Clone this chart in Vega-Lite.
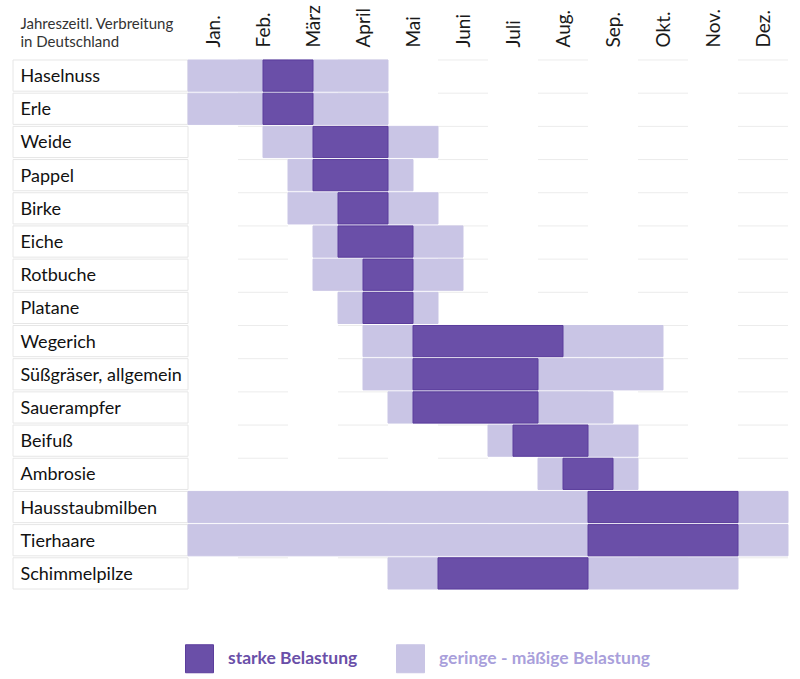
{
  "$schema": "https://vega.github.io/schema/vega-lite/v6.json",
  "width": 776,
  "height": 531,
  "autosize": {"type": "none"},
  "padding": {"left": 12, "top": 59, "right": 12, "bottom": 89},
  "background": "white",
  "config": {"view": {"stroke": null}, "font": "Lato"},
  "datasets": {
    "rows": [
      {"name": "Haselnuss", "cols": [{"a":1,"b":2},{"a":3,"b":4},{"a":5,"b":6},{"a":7,"b":8},{"a":9,"b":10},{"a":11,"b":12}]},
      {"name": "Erle", "cols": [{"a":1,"b":2},{"a":3,"b":4},{"a":5,"b":6},{"a":7,"b":8},{"a":9,"b":10},{"a":11,"b":12}]},
      {"name": "Weide", "cols": [{"a":1,"b":2},{"a":3,"b":4},{"a":5,"b":6},{"a":7,"b":8},{"a":9,"b":10},{"a":11,"b":12}]},
      {"name": "Pappel", "cols": [{"a":1,"b":2},{"a":3,"b":4},{"a":5,"b":6},{"a":7,"b":8},{"a":9,"b":10},{"a":11,"b":12}]},
      {"name": "Birke", "cols": [{"a":1,"b":2},{"a":3,"b":4},{"a":5,"b":6},{"a":7,"b":8},{"a":9,"b":10},{"a":11,"b":12}]},
      {"name": "Eiche", "cols": [{"a":1,"b":2},{"a":3,"b":4},{"a":5,"b":6},{"a":7,"b":8},{"a":9,"b":10},{"a":11,"b":12}]},
      {"name": "Rotbuche", "cols": [{"a":1,"b":2},{"a":3,"b":4},{"a":5,"b":6},{"a":7,"b":8},{"a":9,"b":10},{"a":11,"b":12}]},
      {"name": "Platane", "cols": [{"a":1,"b":2},{"a":3,"b":4},{"a":5,"b":6},{"a":7,"b":8},{"a":9,"b":10},{"a":11,"b":12}]},
      {"name": "Wegerich", "cols": [{"a":1,"b":2},{"a":3,"b":4},{"a":5,"b":6},{"a":7,"b":8},{"a":9,"b":10},{"a":11,"b":12}]},
      {"name": "Süßgräser, allgemein", "cols": [{"a":1,"b":2},{"a":3,"b":4},{"a":5,"b":6},{"a":7,"b":8},{"a":9,"b":10},{"a":11,"b":12}]},
      {"name": "Sauerampfer", "cols": [{"a":1,"b":2},{"a":3,"b":4},{"a":5,"b":6},{"a":7,"b":8},{"a":9,"b":10},{"a":11,"b":12}]},
      {"name": "Beifuß", "cols": [{"a":1,"b":2},{"a":3,"b":4},{"a":5,"b":6},{"a":7,"b":8},{"a":9,"b":10},{"a":11,"b":12}]},
      {"name": "Ambrosie", "cols": [{"a":1,"b":2},{"a":3,"b":4},{"a":5,"b":6},{"a":7,"b":8},{"a":9,"b":10},{"a":11,"b":12}]},
      {"name": "Hausstaubmilben", "cols": [{"a":1,"b":2},{"a":3,"b":4},{"a":5,"b":6},{"a":7,"b":8},{"a":9,"b":10},{"a":11,"b":12}]},
      {"name": "Tierhaare", "cols": [{"a":1,"b":2},{"a":3,"b":4},{"a":5,"b":6},{"a":7,"b":8},{"a":9,"b":10},{"a":11,"b":12}]},
      {"name": "Schimmelpilze", "cols": [{"a":1,"b":2},{"a":3,"b":4},{"a":5,"b":6},{"a":7,"b":8},{"a":9,"b":10},{"a":11,"b":12}]}
    ],
    "bars": [
      {"name": "Haselnuss", "level": "geringe - mäßige Belastung", "start": 0, "end": 4},
      {"name": "Erle", "level": "geringe - mäßige Belastung", "start": 0, "end": 4},
      {"name": "Weide", "level": "geringe - mäßige Belastung", "start": 1.5, "end": 5},
      {"name": "Pappel", "level": "geringe - mäßige Belastung", "start": 2, "end": 4.5},
      {"name": "Birke", "level": "geringe - mäßige Belastung", "start": 2, "end": 5},
      {"name": "Eiche", "level": "geringe - mäßige Belastung", "start": 2.5, "end": 5.5},
      {"name": "Rotbuche", "level": "geringe - mäßige Belastung", "start": 2.5, "end": 5.5},
      {"name": "Platane", "level": "geringe - mäßige Belastung", "start": 3, "end": 5},
      {"name": "Wegerich", "level": "geringe - mäßige Belastung", "start": 3.5, "end": 9.5},
      {"name": "Süßgräser, allgemein", "level": "geringe - mäßige Belastung", "start": 3.5, "end": 9.5},
      {"name": "Sauerampfer", "level": "geringe - mäßige Belastung", "start": 4, "end": 8.5},
      {"name": "Beifuß", "level": "geringe - mäßige Belastung", "start": 6, "end": 9},
      {"name": "Ambrosie", "level": "geringe - mäßige Belastung", "start": 7, "end": 9},
      {"name": "Hausstaubmilben", "level": "geringe - mäßige Belastung", "start": 0, "end": 12},
      {"name": "Tierhaare", "level": "geringe - mäßige Belastung", "start": 0, "end": 12},
      {"name": "Schimmelpilze", "level": "geringe - mäßige Belastung", "start": 4, "end": 11},
      {"name": "Haselnuss", "level": "starke Belastung", "start": 1.5, "end": 2.5},
      {"name": "Erle", "level": "starke Belastung", "start": 1.5, "end": 2.5},
      {"name": "Weide", "level": "starke Belastung", "start": 2.5, "end": 4},
      {"name": "Pappel", "level": "starke Belastung", "start": 2.5, "end": 4},
      {"name": "Birke", "level": "starke Belastung", "start": 3, "end": 4},
      {"name": "Eiche", "level": "starke Belastung", "start": 3, "end": 4.5},
      {"name": "Rotbuche", "level": "starke Belastung", "start": 3.5, "end": 4.5},
      {"name": "Platane", "level": "starke Belastung", "start": 3.5, "end": 4.5},
      {"name": "Wegerich", "level": "starke Belastung", "start": 4.5, "end": 7.5},
      {"name": "Süßgräser, allgemein", "level": "starke Belastung", "start": 4.5, "end": 7},
      {"name": "Sauerampfer", "level": "starke Belastung", "start": 4.5, "end": 7},
      {"name": "Beifuß", "level": "starke Belastung", "start": 6.5, "end": 8},
      {"name": "Ambrosie", "level": "starke Belastung", "start": 7.5, "end": 8.5},
      {"name": "Hausstaubmilben", "level": "starke Belastung", "start": 8, "end": 11},
      {"name": "Tierhaare", "level": "starke Belastung", "start": 8, "end": 11},
      {"name": "Schimmelpilze", "level": "starke Belastung", "start": 5, "end": 8}
    ]
  },
  "layer": [
    {
      "data": {"name": "rows"},
      "mark": {"type": "rect", "fill": "white", "stroke": "#e6e6e6", "strokeWidth": 1},
      "encoding": {
        "x": {
          "datum": -3.5, "type": "quantitative",
          "scale": {"domain": [-3.52, 12], "nice": false, "zero": false},
          "axis": {
            "orient": "top", "title": null, "values": [0.5,1.5,2.5,3.5,4.5,5.5,6.5,7.5,8.5,9.5,10.5,11.5],
            "labelExpr": "['Jan.','Feb.','März','April','Mai','Juni','Juli','Aug.','Sep.','Okt.','Nov.','Dez.'][floor(datum.value)]",
            "labelAngle": -90, "labelAlign": "left", "labelBaseline": "middle", "labelPadding": 12,
            "ticks": false, "domain": false, "grid": false, "labelFontSize": 19, "labelFontWeight": "normal", "labelColor": "#1a1a1a",
            "labelFont": "Lato", "labelFlush": false, "labelOverlap": false, "labelBound": false
          }
        },
        "x2": {"datum": 0},
        "y": {
          "field": "name", "type": "nominal",
          "scale": {"domain": ["Haselnuss","Erle","Weide","Pappel","Birke","Eiche","Rotbuche","Platane","Wegerich","Süßgräser, allgemein","Sauerampfer","Beifuß","Ambrosie","Hausstaubmilben","Tierhaare","Schimmelpilze"], "paddingInner": 0.06, "paddingOuter": 0.03},
          "axis": {
            "title": ["Jahreszeitl. Verbreitung", "in Deutschland"],
            "titleAngle": 0, "titleAlign": "left", "titleBaseline": "alphabetic", "titleX": 8, "titleY": -31,
            "titleFontSize": 15, "titleFontWeight": "normal", "titleColor": "#333333", "titleFont": "Lato", "titleLineHeight": 18,
            "labelAlign": "left", "labelPadding": -8, "labelFontSize": 18, "labelColor": "#111111", "labelFont": "Lato",
            "labelBaseline": "middle", "labelOffset": 1.5, "ticks": false, "domain": false, "grid": false, "zindex": 1, "labelLimit": 200
          }
        }
      }
    },
    {
      "data": {"name": "rows"},
      "transform": [{"flatten": ["cols"]}],
      "mark": {"type": "rule", "stroke": "#ececec", "strokeWidth": 1},
      "encoding": {
        "x": {"field": "cols.a", "type": "quantitative"},
        "x2": {"field": "cols.b"},
        "y": {"field": "name", "type": "nominal", "bandPosition": 0}
      }
    },
    {
      "data": {"name": "bars"},
      "mark": {"type": "rect", "strokeWidth": 1},
      "encoding": {
        "x": {"field": "start", "type": "quantitative"},
        "x2": {"field": "end"},
        "y": {"field": "name", "type": "nominal"},
        "color": {
          "field": "level", "type": "nominal",
          "scale": {"domain": ["starke Belastung", "geringe - mäßige Belastung"], "range": ["#6a4fa8", "#c9c5e5"]},
          "legend": {
            "title": null, "orient": "none", "legendX": 173, "legendY": 585, "direction": "horizontal",
            "symbolType": "square", "symbolSize": 784, "symbolStrokeWidth": 1, "labelOffset": 14, "columnPadding": 36,
            "labelFontSize": 17.5, "labelFontWeight": "bold", "labelFont": "Lato", "padding": 0, "labelLimit": 400,
            "encode": {
              "labels": {"update": {"fill": {"signal": "datum.label == 'starke Belastung' ? '#6a4fa8' : '#a99fdb'"}}},
              "symbols": {"update": {"stroke": {"signal": "datum.label == 'starke Belastung' ? '#5b3d9c' : '#bdb8df'"}, "opacity": {"value": 1}}}
            }
          }
        },
        "stroke": {
          "field": "level", "type": "nominal",
          "scale": {"domain": ["starke Belastung", "geringe - mäßige Belastung"], "range": ["#5b3d9c", "#c9c5e5"]},
          "legend": null
        }
      }
    }
  ]
}
